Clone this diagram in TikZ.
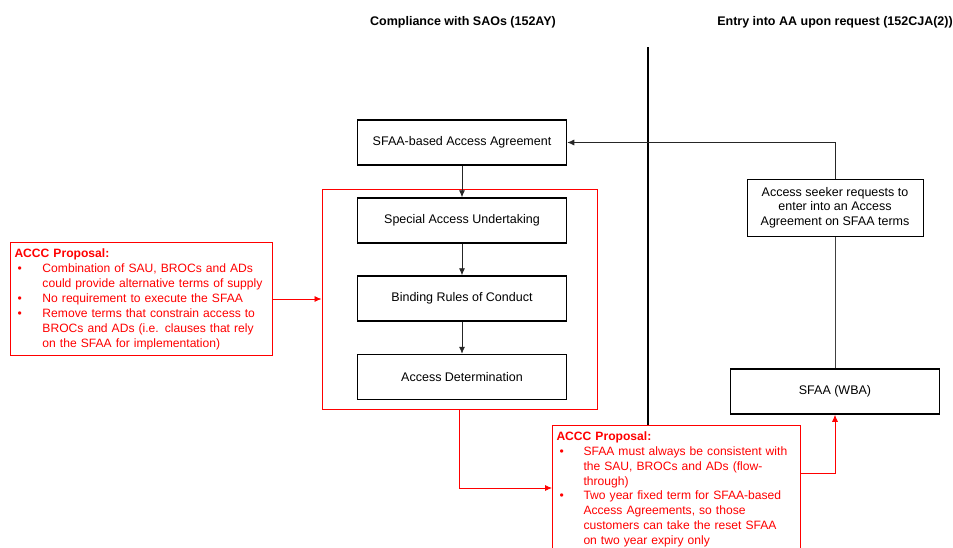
\documentclass[tikz,border=0pt]{standalone}
\usepackage{fontspec}
\setmainfont{Liberation Sans}
\usetikzlibrary{arrows.meta}
\newcommand\fsz{\fontsize{12.5}{14.6}\selectfont}
\newcommand\rsz{\fontsize{12.1}{15}\selectfont}
\newcommand\bul[2]{\mbox{\makebox[#1][l]{\hspace{3pt}\textbullet}#2}}
\newcommand\hng[2]{\mbox{\hspace*{#1}#2}}
\tikzset{
  stepbox/.style={draw=black, line width=1.5pt, minimum width=209pt, minimum height=45pt,
    inner sep=0pt, font=\fsz, align=center, fill=white},
  reqbox/.style={draw=black, line width=1pt, minimum width=176pt, minimum height=57pt,
    inner sep=0pt, font=\fsz, align=center, fill=white},
  propbox/.style={draw=red, line width=1pt, text=red, align=left, anchor=north west,
    inner xsep=4pt, inner ysep=5pt, font=\rsz, fill=white},
  title/.style={font=\fsz\bfseries},
  arr/.style={draw=black!85, line width=0.8pt, -{Latex[length=7pt,width=6pt]}},
  conn/.style={draw=black!75, line width=0.8pt},
  rarr/.style={draw=red, line width=0.8pt, -{Latex[length=7pt,width=6pt]}},
}
\begin{document}
\begin{tikzpicture}[x=1pt,y=-1pt]
\clip (0,0) rectangle (953,547);
\useasboundingbox (0,0) rectangle (953,547);

\node[title] (t1) at (463,22) {Compliance with SAOs (152AY)};
\node[title] (t2) at (835,22) {Entry into AA upon request (152CJA(2))};

\coordinate (divtop) at (648,47);
\coordinate (divbot) at (648,440);
\draw[line width=2pt] (divtop) -- (divbot);

\node[draw=red, line width=1pt, minimum width=275pt, minimum height=220pt, inner sep=0pt] (cont) at (459.5,299) {};

\node[stepbox] (sfaa) at (462,142.5) {SFAA-based Access Agreement};
\node[stepbox] (sau) at (462,220.5) {Special Access Undertaking};
\node[stepbox] (broc) at (462,298.5) {Binding Rules of Conduct};
\node[stepbox] (ad) at (462,377) {Access Determination};

\node[reqbox] (req) at (835,207.5) {Access seeker requests to\\enter into an Access\\Agreement on SFAA terms};
\node[stepbox] (wba) at (835,391.5) {SFAA (WBA)};

\node[propbox, text width=254pt, minimum height=113pt] (prop1) at (10,242) {%
{\bfseries ACCC Proposal:}\\
\bul{28pt}{Combination of SAU, BROCs and ADs}\\
\hng{28pt}{could provide alternative terms of supply}\\
\bul{28pt}{No requirement to execute the SFAA}\\
\bul{28pt}{Remove terms that constrain access to}\\
\hng{28pt}{BROCs and ADs (i.e. clauses that rely}\\
\hng{28pt}{on the SFAA for implementation)}};

\node[propbox, text width=240pt, inner ysep=6.5pt, font=\fontsize{12.1}{14.8}\selectfont] (prop2) at (552,425) {%
{\bfseries ACCC Proposal:}\\
\bul{27pt}{SFAA must always be consistent with}\\
\hng{27pt}{the SAU, BROCs and ADs (flow-}\\
\hng{27pt}{through)}\\
\bul{27pt}{Two year fixed term for SFAA-based}\\
\hng{27pt}{Access Agreements, so those}\\
\hng{27pt}{customers can take the reset SFAA}\\
\hng{27pt}{on two year expiry only}\\[2pt]};

\draw[arr] (sfaa) -- (sau);
\draw[arr] (sau) -- (broc);
\draw[arr] (broc) -- (ad);
\draw[conn] (wba) -- (req);
\draw[arr] (req.north) |- (sfaa.east);

\draw[rarr] (prop1.east) -- (prop1.east -| cont.west);
\path (prop2.north west) ++(0,63) coordinate (p2in);
\draw[rarr] (cont.south) |- (p2in);
\path (prop2.north east) ++(0,48) coordinate (p2out);
\draw[rarr] (p2out) -| (wba.south);
\end{tikzpicture}
\end{document}
